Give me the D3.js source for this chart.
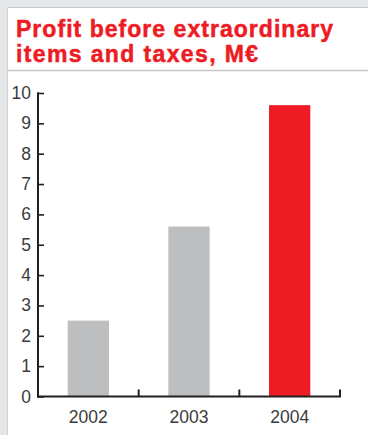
<!DOCTYPE html>
<html>
<head>
<meta charset="utf-8">
<script src="https://cdn.jsdelivr.net/npm/d3@7"></script>
<style>
  html, body { margin: 0; padding: 0; background: #e6e7e8; }
  svg { display: block; }
</style>
</head>
<body>
<svg id="chart" width="368" height="435"></svg>
<script>
// Profit before extraordinary items and taxes, million euros
const years = ["2002", "2003", "2004"];
const profit = [2.5, 5.6, 9.6];
const barColors = ["#bcbec0", "#bcbec0", "#ed1c24"];
const yTicks = [0, 1, 2, 3, 4, 5, 6, 7, 8, 9, 10];
const titleLines = ["Profit before extraordinary", "items and taxes, M€"];
const titleWidths = [317, 242];

(function draw() {
  const svg = d3.select("#chart");
  const W = 368, H = 435;

  // Panel: white card with grey outline, title area separated by a rule
  svg.append("rect").attr("x", 0).attr("y", 0).attr("width", W).attr("height", H).attr("fill", "#e6e7e8");
  svg.append("rect").attr("x", 8).attr("y", 8).attr("width", W - 8).attr("height", H - 8).attr("fill", "#ffffff");
  svg.append("line").attr("x1", 7.5).attr("x2", 7.5).attr("y1", 8).attr("y2", H).attr("stroke", "#cfd0d2").attr("stroke-width", 1);
  svg.append("line").attr("x1", 7.5).attr("x2", W).attr("y1", 7.5).attr("y2", 7.5).attr("stroke", "#c4c5c7").attr("stroke-width", 1);
  svg.append("line").attr("x1", 8).attr("x2", W).attr("y1", 70.5).attr("y2", 70.5).attr("stroke", "#c4c5c7").attr("stroke-width", 1.5);

  // Title, heavy red lettering over two lines
  titleLines.forEach((t, i) => {
    svg.append("text")
      .attr("x", 16)
      .attr("y", 37 + i * 25)
      .attr("fill", "#ed1c24")
      .attr("stroke", "#ed1c24")
      .attr("stroke-width", 0.5)
      .attr("font-family", "'Liberation Sans', Arial, Helvetica, sans-serif")
      .attr("font-weight", "bold")
      .attr("font-size", 23)
      .attr("textLength", titleWidths[i])
      .attr("lengthAdjust", "spacing")
      .text(t);
  });

  // Plot area
  const plotLeft = 38, plotRight = 340, plotTop = 93, plotBottom = 396.5;

  const x = d3.scaleBand().domain(years).range([plotLeft, plotRight]).padding(0);
  const y = d3.scaleLinear().domain([0, 10]).range([plotBottom, plotTop]);
  const barW = x.bandwidth() * 0.41;

  // Bars
  svg.append("g").selectAll("rect")
    .data(years)
    .join("rect")
    .attr("x", (d) => x(d) + x.bandwidth() / 2 - barW / 2)
    .attr("width", barW)
    .attr("y", (d, i) => y(profit[i]))
    .attr("height", (d, i) => plotBottom - y(profit[i]))
    .attr("fill", (d, i) => barColors[i]);

  const axisColor = "#231f20";
  const labelFont = "'Liberation Sans', Arial, Helvetica, sans-serif";

  // Y axis: ticks point inward, labels to the left
  const yAxis = d3.axisRight(y).tickValues(yTicks).tickSize(6).tickFormat("");
  const gy = svg.append("g").attr("transform", `translate(${plotLeft},0)`).call(yAxis);
  gy.select(".domain").remove();
  gy.selectAll(".tick line").attr("stroke", axisColor).attr("stroke-width", 1.6);
  svg.append("line")
    .attr("x1", plotLeft).attr("x2", plotLeft)
    .attr("y1", y(10) - 0.8).attr("y2", plotBottom + 1)
    .attr("stroke", axisColor).attr("stroke-width", 2);

  svg.append("g").selectAll("text")
    .data(yTicks)
    .join("text")
    .attr("x", 31)
    .attr("y", (d) => y(d) + 6)
    .attr("text-anchor", "end")
    .attr("fill", "#3c3c3e")
    .attr("font-family", labelFont)
    .attr("font-size", 17.5)
    .text((d) => d);

  // X axis: baseline with upward ticks at band edges
  svg.append("line")
    .attr("x1", plotLeft - 1).attr("x2", plotRight + 1)
    .attr("y1", plotBottom).attr("y2", plotBottom)
    .attr("stroke", axisColor).attr("stroke-width", 2);
  const edges = years.map((d) => x(d)).concat([plotRight]);
  svg.append("g").selectAll("line")
    .data(edges)
    .join("line")
    .attr("x1", (d) => d).attr("x2", (d) => d)
    .attr("y1", plotBottom).attr("y2", plotBottom - 7)
    .attr("stroke", axisColor).attr("stroke-width", 2);

  svg.append("g").selectAll("text")
    .data(years)
    .join("text")
    .attr("x", (d) => x(d) + x.bandwidth() / 2)
    .attr("y", 423)
    .attr("text-anchor", "middle")
    .attr("fill", "#3c3c3e")
    .attr("font-family", labelFont)
    .attr("font-size", 17.5)
    .text((d) => d);
})();
</script>
</body>
</html>
